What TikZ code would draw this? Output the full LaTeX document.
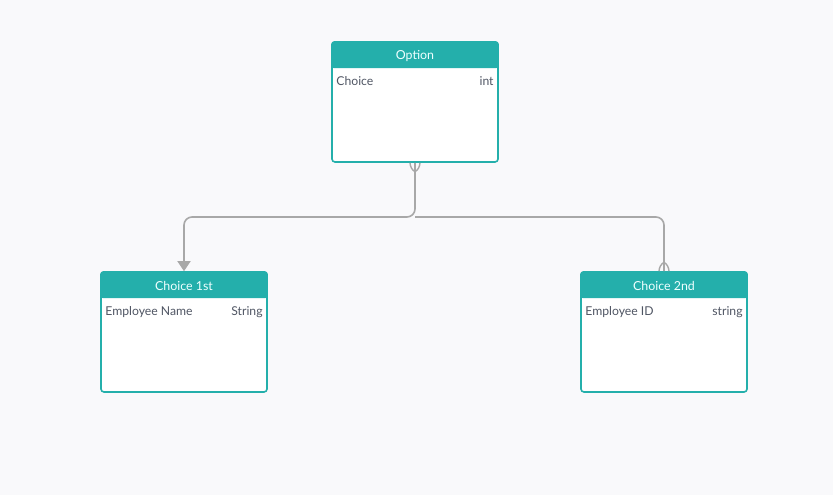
\documentclass[tikz,border=0pt]{standalone}
\usepackage{fontspec}
\setmainfont{Lato}
\usetikzlibrary{arrows.meta}
\definecolor{tealhead}{HTML}{24AFAB}
\definecolor{bgpage}{HTML}{F9F9FB}
\definecolor{linkgray}{HTML}{A8A8A8}
\definecolor{fieldtxt}{HTML}{505664}
\definecolor{headtxt}{HTML}{EFFFFF}
\tikzset{
  entity/.style={draw=tealhead,line width=1.6pt,fill=white,rounded corners=3pt,
    minimum width=166pt,minimum height=120pt,inner sep=0pt},
  headtext/.style={text=headtxt,font=\fontsize{12.4}{14}\selectfont},
  fieldname/.style={text=fieldtxt,font=\fontsize{12.2}{14}\selectfont,anchor=base west,inner sep=0pt},
  fieldtype/.style={text=fieldtxt,font=\fontsize{12.2}{14}\selectfont,anchor=base east,inner sep=0pt},
  link/.style={draw=linkgray,line width=1.6pt,rounded corners=8pt},
  linkhead/.style={draw=linkgray,line width=1.6pt,-{Triangle[length=10pt,width=13pt]}},
  crow/.style={draw=linkgray,line width=1.4pt},
}

\begin{document}
\begin{tikzpicture}[x=1pt,y=-1pt]
   \fill[bgpage] (0,0) rectangle (833,495);
   \useasboundingbox (0,0) rectangle (833,495);
   % entities
   \node[entity] (opt) at (415,102) {};
   \node[entity] (c1) at (184,332) {};
   \node[entity] (c2) at (664,332) {};
   \fill[tealhead,rounded corners=3pt] (opt.north west) rectangle ([yshift=-27pt]opt.north east);
   \fill[tealhead] ([yshift=-10pt]opt.north west) rectangle ([yshift=-27pt]opt.north east);
   \fill[tealhead,rounded corners=3pt] (c1.north west) rectangle ([yshift=-27pt]c1.north east);
   \fill[tealhead] ([yshift=-10pt]c1.north west) rectangle ([yshift=-27pt]c1.north east);
   \fill[tealhead,rounded corners=3pt] (c2.north west) rectangle ([yshift=-27pt]c2.north east);
   \fill[tealhead] ([yshift=-10pt]c2.north west) rectangle ([yshift=-27pt]c2.north east);
   \node[headtext] (optT) at ([yshift=-14.5pt]opt.north) {Option};
   \node[headtext] (c1T) at ([yshift=-14.5pt]c1.north) {Choice 1st};
   \node[headtext] (c2T) at ([yshift=-14.5pt]c2.north) {Choice 2nd};
   \node[fieldname] (optF) at ([xshift=5pt,yshift=-44.5pt]opt.north west) {Choice};
   \node[fieldtype] (optY) at ([xshift=-5pt,yshift=-44.5pt]opt.north east) {int};
   \node[fieldname] (c1F) at ([xshift=5pt,yshift=-44.5pt]c1.north west) {Employee Name};
   \node[fieldtype] (c1Y) at ([xshift=-5pt,yshift=-44.5pt]c1.north east) {String};
   \node[fieldname] (c2F) at ([xshift=5pt,yshift=-44.5pt]c2.north west) {Employee ID};
   \node[fieldtype] (c2Y) at ([xshift=-5pt,yshift=-44.5pt]c2.north east) {string};
   % links
   \coordinate (jn) at (415,217);
   \coordinate (c1in) at ([yshift=14pt]c1.north);
   \draw[link] (opt.south) -- (jn) -| (c1in);
   \draw[linkhead] (c1in) -- (c1.north);
   \draw[link] (jn) -| (c2.north);
   \draw[crow] ([yshift=-9pt]opt.south) to[bend left=25] ([xshift=-5pt]opt.south);
   \draw[crow] ([yshift=-9pt]opt.south) to[bend right=25] ([xshift=5pt]opt.south);
   \draw[crow] ([yshift=9pt]c2.north) to[bend right=25] ([xshift=-5pt]c2.north);
   \draw[crow] ([yshift=9pt]c2.north) to[bend left=25] ([xshift=5pt]c2.north);
\end{tikzpicture}
\end{document}
